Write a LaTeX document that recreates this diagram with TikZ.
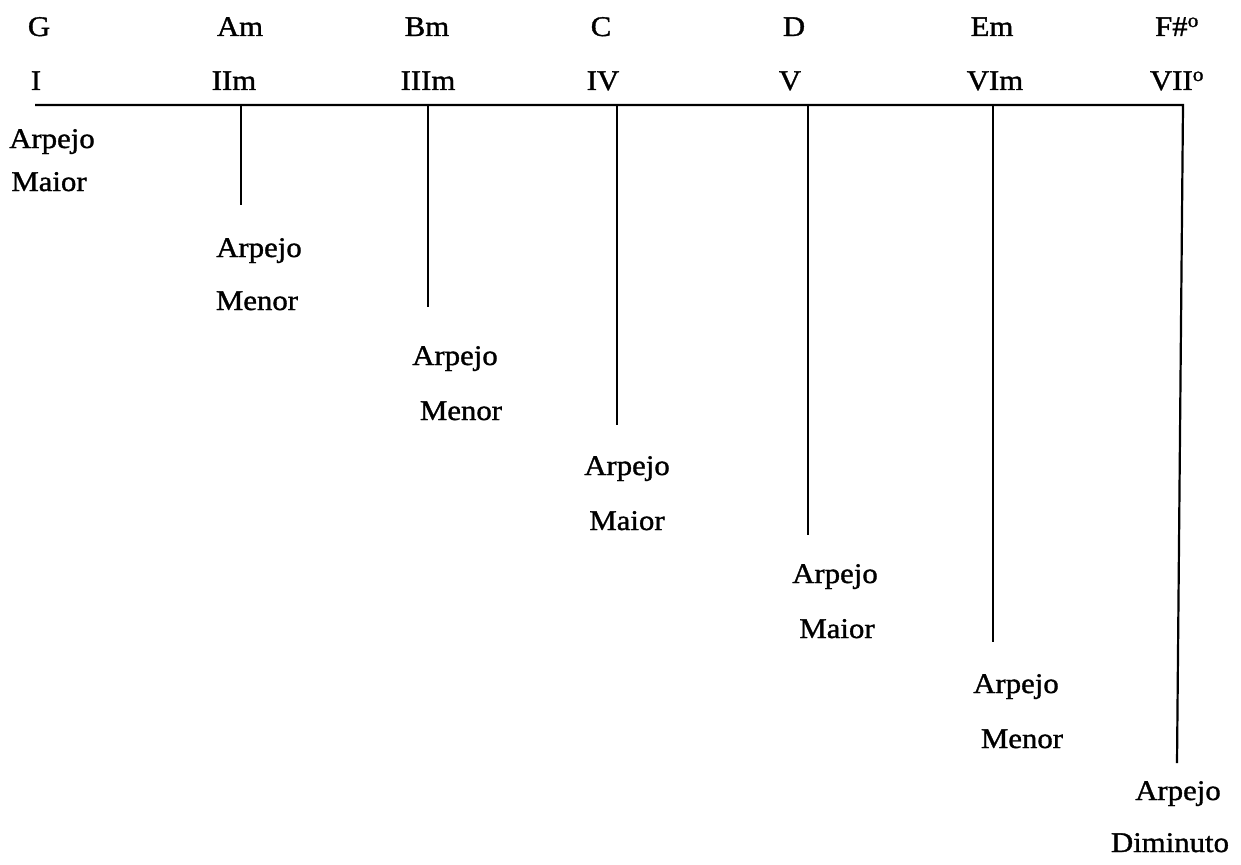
\documentclass[tikz,border=0pt]{standalone}
\usepackage{fontspec}
\setmainfont[FakeBold=1.2,FakeStretch=1.08]{Liberation Serif}
\begin{document}
\begin{tikzpicture}[x=1pt,y=-1pt,
  lbl/.style={anchor=base,inner sep=0pt,font=\fontsize{28.5}{30}\selectfont},
  ln/.style={line width=2.2pt,black}]
\useasboundingbox[fill=white] (0,0) rectangle (1241,864);
% chord names
\node[lbl] (cG)  at (39,36) {G};
\node[lbl] (cAm) at (240,36) {Am};
\node[lbl] (cBm) at (427,36) {Bm};
\node[lbl] (cC)  at (601,36) {C};
\node[lbl] (cD)  at (794,36) {D};
\node[lbl] (cEm) at (992,36) {Em};
\node[lbl] (cF)  at (1177,36) {F\#\textsuperscript{o}};
% degrees
\node[lbl] (dI)   at (36,90) {I};
\node[lbl] (dII)  at (234,90) {IIm};
\node[lbl] (dIII) at (428,90) {IIIm};
\node[lbl] (dIV)  at (603,90) {IV};
\node[lbl] (dV)   at (790,90) {V};
\node[lbl] (dVI)  at (995,90) {VIm};
\node[lbl] (dVII) at (1177,90) {VII\textsuperscript{o}};
% line coordinates
\coordinate (h0) at (35,105);
\coordinate (t2) at (241,105); \coordinate (b2) at (241,205);
\coordinate (t3) at (428,105); \coordinate (b3) at (428,307);
\coordinate (t4) at (617,105); \coordinate (b4) at (617,425);
\coordinate (t5) at (808,105); \coordinate (b5) at (808,535);
\coordinate (t6) at (993,105); \coordinate (b6) at (993,642);
\coordinate (t7) at (1183,105); \coordinate (b7) at (1177,763);
\draw[ln] (h0) -- (t7) -- (b7);
\draw[ln] (t2) -- (b2);
\draw[ln] (t3) -- (b3);
\draw[ln] (t4) -- (b4);
\draw[ln] (t5) -- (b5);
\draw[ln] (t6) -- (b6);
% arpeggio labels
\node[lbl] (a1) at (52,148) {Arpejo};
\node[lbl] (q1) at (49,191) {Maior};
\node[lbl] (a2) at (259,257) {Arpejo};
\node[lbl] (q2) at (257,310) {Menor};
\node[lbl] (a3) at (455,365) {Arpejo};
\node[lbl] (q3) at (461,420) {Menor};
\node[lbl] (a4) at (627,475) {Arpejo};
\node[lbl] (q4) at (627,530) {Maior};
\node[lbl] (a5) at (835,583) {Arpejo};
\node[lbl] (q5) at (837,638) {Maior};
\node[lbl] (a6) at (1016,693) {Arpejo};
\node[lbl] (q6) at (1022,748) {Menor};
\node[lbl] (a7) at (1178,800) {Arpejo};
\node[lbl] (q7) at (1170,852) {Diminuto};
\end{tikzpicture}
\end{document}
